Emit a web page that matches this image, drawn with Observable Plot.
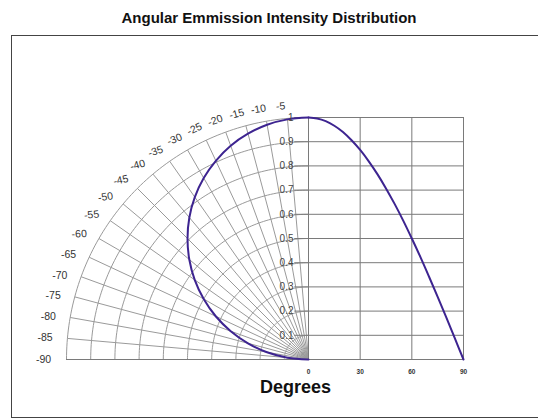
<!DOCTYPE html>
<html>
<head>
<meta charset="utf-8">
<script src="https://cdn.jsdelivr.net/npm/d3@7"></script>
<script src="https://cdn.jsdelivr.net/npm/@observablehq/plot@0.6"></script>
<style>
  html, body { margin: 0; padding: 0; background: #fff; }
  body { width: 538px; height: 418px; overflow: hidden; position: relative; font-family: "Liberation Sans", Arial, sans-serif; }
  #title { position: absolute; left: 0; top: 0; width: 538px; height: 35px; line-height: 36px; text-align: center; font-weight: bold; font-size: 15px; color: #111; }
  #frame { position: absolute; left: 11px; top: 35px; width: 540px; height: 381px; border-left: 1.5px solid #444; border-top: 1.5px solid #444; border-bottom: 1.5px solid #444; box-sizing: content-box; }
  #chart { position: absolute; left: 0; top: 35px; }
</style>
</head>
<body>
<div id="title">Angular Emmission Intensity Distribution</div>
<div id="frame"></div>
<div id="chart"></div>
<script>
// ---- data ----
const angles = [0, 5, 10, 15, 20, 25, 30, 35, 40, 45, 50, 55, 60, 65, 70, 75, 80, 85, 90];
const intensity = [1.00, 0.996, 0.985, 0.966, 0.94, 0.906, 0.866, 0.819, 0.766, 0.707, 0.643, 0.574, 0.50, 0.423, 0.342, 0.259, 0.174, 0.087, 0.00];
const radialTicks = [0.1, 0.2, 0.3, 0.4, 0.5, 0.6, 0.7, 0.8, 0.9, 1];
const angleTicks = [-5, -10, -15, -20, -25, -30, -35, -40, -45, -50, -55, -60, -65, -70, -75, -80, -85, -90];
const degreeTicks = [0, 30, 60, 90];

// ---- layout helpers ----
const rad = a => a * Math.PI / 180;
const k = (463 - 308) / 242 / 90; // degrees (right grid) -> radius units
const px = a => -Math.sin(rad(Math.abs(a)));
const py = a => Math.cos(rad(Math.abs(a)));

const arcPts = [];
for (const r of radialTicks) for (let a = 0; a <= 90; a += 1) arcPts.push({r, a});
const spokes = [0, ...angleTicks];
const hLines = [0, ...radialTicks];

const labelR = a => 1.05 + 0.045 * (Math.abs(a) / 90);
const labelAng = a => {
  const t = Math.abs(a);
  return t + (t <= 70 ? 1.3 : 1.3 * (90 - t) / 20);
};
const labelRot = a => {
  const t = Math.abs(a);
  if (t <= 25) return -t;
  if (t < 65) return -25 * (65 - t) / 40;
  return 0;
};

const plot = Plot.plot({
  width: 538,
  height: 383,
  x: {domain: [-1, 0], range: [66, 308], axis: null},
  y: {domain: [0, 1], range: [324, 82], axis: null},
  style: {fontFamily: "'Liberation Sans', Arial, sans-serif", background: "transparent"},
  marks: [
    // polar arcs
    Plot.line(arcPts, {x: d => d.r * px(d.a), y: d => d.r * py(d.a), z: "r", stroke: "#9a9a9a", strokeWidth: 1}),
    // polar spokes
    Plot.link(spokes, {x1: 0, y1: 0, x2: a => px(a), y2: a => py(a), stroke: "#9a9a9a", strokeWidth: 1}),
    // right grid
    Plot.ruleY(hLines, {y: d => d, x1: d => d === 0 ? -1 : -8 * k, x2: 90 * k, stroke: "#7a7a7a", strokeWidth: 1}),
    Plot.ruleX(degreeTicks, {x: d => d * k, y1: 0, y2: 1, stroke: "#7a7a7a", strokeWidth: 1}),
    // cartesian curve
    Plot.line(angles, {x: d => d * k, y: (d, i) => intensity[i], stroke: "#3d2490", strokeWidth: 2, curve: "catmull-rom"}),
    // polar curve
    Plot.line(angles, {x: (d, i) => intensity[i] * px(d), y: (d, i) => intensity[i] * py(d), stroke: "#3d2490", strokeWidth: 2, curve: "catmull-rom"}),
    // angle labels
    Plot.text(angleTicks, {
      x: a => labelR(a) * px(labelAng(a)),
      y: a => labelR(a) * py(labelAng(a)),
      text: a => String(a), rotate: labelRot, fontSize: 10.5, fill: "#333"
    }),
    // radial labels
    Plot.text(radialTicks, {x: 0, y: d => d, dx: -15, textAnchor: "end", text: d => d === 1 ? "1" : d.toFixed(1), fontSize: 10, fill: "#444"}),
    // degree tick labels
    Plot.text(degreeTicks, {x: d => d * k, y: 0, dy: 12, text: d => String(d), fontSize: 6.5, fontWeight: "bold", fill: "#333"}),
    // axis title
    Plot.text(["Degrees"], {x: 0, y: 0, dx: -13, dy: 28, text: d => d, fontSize: 18, fontWeight: "bold", fill: "#111"})
  ]
});
document.getElementById("chart").appendChild(plot);
</script>
</body>
</html>
